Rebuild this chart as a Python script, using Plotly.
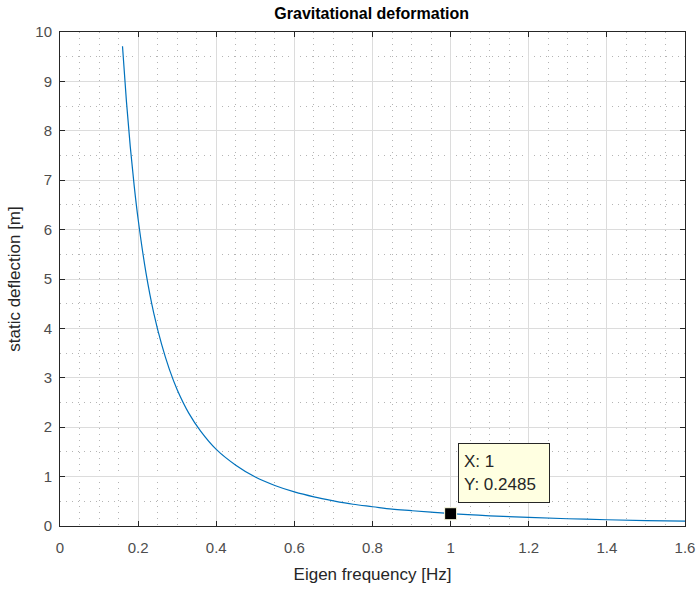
import plotly.graph_objects as go

freq = [0.16, 0.17, 0.18, 0.19, 0.20, 0.22, 0.24, 0.26, 0.28, 0.30, 0.33, 0.36,
        0.40, 0.45, 0.50, 0.55, 0.60, 0.65, 0.70, 0.75, 0.80, 0.85, 0.90, 0.95,
        1.00, 1.10, 1.20, 1.30, 1.40, 1.50, 1.60]
deflection = [9.71, 8.60, 7.67, 6.88, 6.21, 5.13, 4.31, 3.68, 3.17, 2.76, 2.28, 1.92,
              1.55, 1.23, 0.99, 0.82, 0.69, 0.59, 0.51, 0.44, 0.39, 0.34, 0.31, 0.28,
              0.2485, 0.205, 0.173, 0.147, 0.127, 0.110, 0.097]
marker_x = [1]
marker_y = [0.2485]
x_ticks = [0, 0.2, 0.4, 0.6, 0.8, 1, 1.2, 1.4, 1.6]
x_labels = ["0", "0.2", "0.4", "0.6", "0.8", "1", "1.2", "1.4", "1.6"]
y_ticks = list(range(0, 11))

font = "Liberation Sans, Arial, sans-serif"

fig = go.Figure()
fig.add_trace(go.Scatter(x=freq, y=deflection, mode="lines",
                         line=dict(color="#0072BD", width=1.2, shape="spline"),
                         hoverinfo="skip"))
fig.add_trace(go.Scatter(x=marker_x, y=marker_y, mode="markers",
                         marker=dict(symbol="square", size=12, color="black",
                                     line=dict(color="#ffffe1", width=1)),
                         hoverinfo="skip"))

fig.add_annotation(x=1.02, y=0.46, xref="x", yref="y", xanchor="left", yanchor="bottom",
                   text="X: 1<br>Y: 0.2485", showarrow=False, align="left",
                   width=80, height=48,
                   bgcolor="#ffffe1", bordercolor="#262626", borderwidth=1, borderpad=5,
                   font=dict(family=font, size=17, color="#262626"))

axis_common = dict(showline=True, linecolor="#262626", linewidth=1, mirror="ticks",
                   ticks="inside", ticklen=5, tickcolor="#262626", automargin=False,
                   showgrid=True, gridcolor="#dcdcdc", gridwidth=1, zeroline=False,
                   tickfont=dict(family=font, size=15, color="#4d4d4d"))

fig.update_layout(
    width=698, height=589,
    margin=dict(l=60, r=13, t=32, b=63),
    paper_bgcolor="white", plot_bgcolor="white",
    showlegend=False,
    title=dict(text="<b>Gravitational deformation</b>", x=0.5325, xanchor="center",
               y=0.978, yanchor="middle",
               font=dict(family=font, size=16, color="#000000")),
    xaxis=dict(range=[0, 1.6], tickvals=x_ticks, ticktext=x_labels,
               ticklabelstandoff=8,
               title=dict(text="Eigen frequency [Hz]", standoff=13,
                          font=dict(family=font, size=17, color="#262626")),
               minor=dict(dtick=0.05, showgrid=True, griddash="1px,5px", gridcolor="#b4b4b4",
                          ticks=""),
               **axis_common),
    yaxis=dict(range=[0, 10], tickvals=y_ticks,
               ticklabelstandoff=4,
               title=dict(text="static deflection [m]", standoff=10,
                          font=dict(family=font, size=17, color="#262626")),
               minor=dict(dtick=0.5, showgrid=True, griddash="1px,5px", gridcolor="#b4b4b4",
                          ticks=""),
               **axis_common),
)

fig.write_html("out.html")
